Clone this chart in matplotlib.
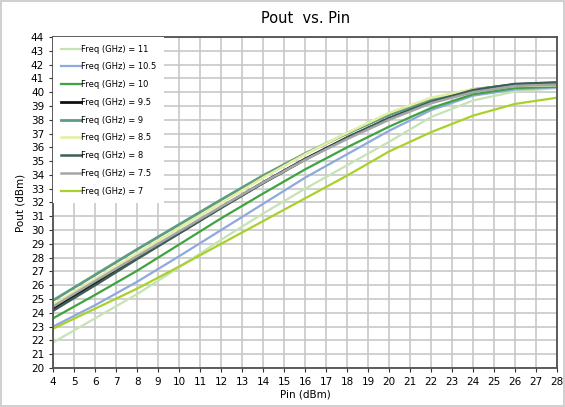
import numpy as np
import matplotlib
matplotlib.use("Agg")
import matplotlib.pyplot as plt

# Pin sweep (dBm) and Pout (dBm) per frequency
pin = [4, 6, 8, 10, 12, 14, 16, 18, 20, 22, 24, 26, 28]

pout_11 = [21.85, 23.6, 25.35, 27.3, 29.3, 31.2, 33.0, 34.7, 36.4, 38.2, 39.4, 40.05, 40.3]
pout_10_5 = [23.0, 24.55, 26.25, 28.1, 30.0, 31.9, 33.8, 35.5, 37.2, 38.7, 39.75, 40.2, 40.35]
pout_10 = [23.6, 25.3, 27.05, 28.95, 30.85, 32.65, 34.4, 36.0, 37.5, 38.85, 39.85, 40.3, 40.4]
pout_9_5 = [24.3, 26.15, 28.0, 29.8, 31.65, 33.45, 35.15, 36.7, 38.1, 39.3, 40.15, 40.55, 40.65]
pout_9 = [24.9, 26.75, 28.6, 30.4, 32.2, 33.95, 35.55, 37.0, 38.35, 39.45, 40.2, 40.55, 40.7]
pout_8_5 = [24.6, 26.45, 28.3, 30.15, 31.95, 33.8, 35.5, 37.05, 38.5, 39.6, 40.2, 40.45, 40.5]
pout_8 = [24.15, 26.0, 27.9, 29.75, 31.6, 33.4, 35.1, 36.7, 38.1, 39.3, 40.15, 40.6, 40.7]
pout_7_5 = [24.45, 26.3, 28.1, 29.9, 31.7, 33.45, 35.1, 36.6, 38.0, 39.2, 40.0, 40.45, 40.55]
pout_7 = [22.85, 24.3, 25.75, 27.35, 29.0, 30.65, 32.3, 33.95, 35.7, 37.1, 38.3, 39.15, 39.6]

freqs = ['11', '10.5', '10', '9.5', '9', '8.5', '8', '7.5', '7']
series = [pout_11, pout_10_5, pout_10, pout_9_5, pout_9, pout_8_5, pout_8, pout_7_5, pout_7]
colors = ['#c6e3b5', '#8ea9db', '#3fa33f', '#111111', '#5e9b80',
          '#e2efa0', '#3c5e55', '#a6a6a6', '#a9d12a']
widths = [1.6, 1.6, 1.6, 2.0, 2.0, 1.8, 1.8, 1.8, 1.6]

fig = plt.figure(figsize=(5.65, 4.07), dpi=100)
fig.patch.set_edgecolor('#d0d0d0')
fig.patch.set_linewidth(1.5)
ax = fig.add_axes([0.094, 0.096, 0.892, 0.813])

for f, y, c, lw in zip(freqs, series, colors, widths):
    ax.plot(pin, y, color=c, linewidth=lw, label=f'Freq (GHz) = {f}')

ax.set_xlim(4, 28)
ax.set_ylim(20, 44)
ax.set_xticks(range(4, 29))
ax.set_yticks(range(20, 45))
ax.grid(True, color='#c8c8c8', linewidth=1.2)
ax.set_axisbelow(True)
for s in ax.spines.values():
    s.set_color('#505050')
    s.set_linewidth(1.3)
ax.tick_params(axis='both', labelsize=7.5, colors='#333333', length=3, width=0.8,
               labelcolor='black')

ax.set_title('Pout  vs. Pin', fontsize=10.5, pad=10)
ax.set_xlabel('Pin (dBm)', fontsize=7.5, labelpad=2)
ax.set_ylabel('Pout (dBm)', fontsize=7.5, labelpad=4)

leg = ax.legend(loc='upper left', fontsize=6, frameon=True, fancybox=False,
                framealpha=1, edgecolor='none', facecolor='white',
                borderaxespad=0.0, labelspacing=1.05, handlelength=2.4,
                handletextpad=0.1, borderpad=0.9)

fig.savefig('out.png', dpi=100)
